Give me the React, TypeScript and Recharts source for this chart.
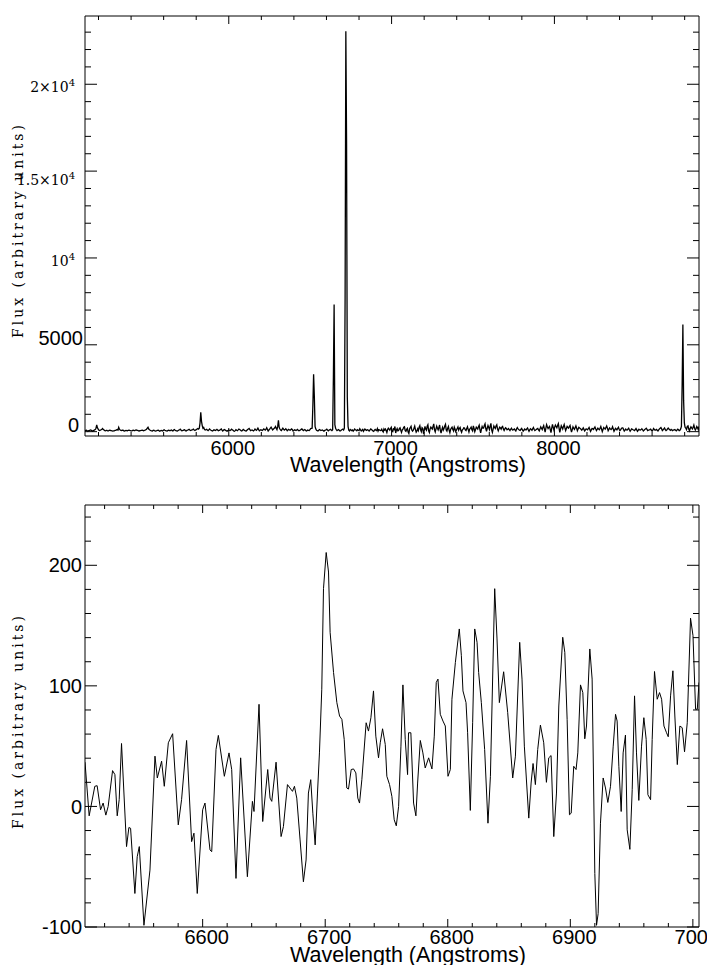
import React from 'react';
import { LineChart, Line, XAxis, YAxis } from 'recharts';

// ---------------- DATA ----------------
// Upper panel: full spectrum, sampled every 4.5 Å starting at 5117 Å
const overviewStart = 5117;
const overviewStep = 4.5;
const overviewFlux = [
  40, 70, 80, 50, 20, 60, 60, 90, 100, 60, 30, 50, 70, 100, 120, 200, 385, 220, 150, 80,
  60, 90, 110, 140, 180, 120, 90, 60, 50, 70, 70, 40, 40, 80, 90, 60, 60, 40, 30, 50,
  50, 70, 80, 100, 120, 90, 250, 140, 100, 70, 60, 80, 80, 50, 40, 60, 70, 60, 50, 80,
  90, 70, 60, 40, 40, 70, 80, 60, 60, 90, 100, 80, 70, 50, 40, 60, 60, 80, 90, 70,
  50, 70, 80, 110, 140, 200, 250, 150, 110, 80, 60, 50, 40, 70, 80, 50, 30, 50, 60, 80,
  90, 50, 20, 50, 70, 60, 40, 80, 110, 80, 60, 40, 30, 60, 80, 70, 50, 80, 100, 60,
  40, 90, 120, 80, 60, 40, 30, 70, 90, 110, 140, 90, 50, 60, 70, 100, 110, 60, 40, 70,
  80, 110, 130, 90, 60, 80, 100, 120, 150, 90, 70, 100, 120, 150, 180, 150, 200, 500, 1115, 600,
  350, 200, 240, 130, 90, 110, 130, 90, 60, 100, 150, 110, 80, 60, 40, 70, 110, 90, 70, 100,
  130, 90, 50, 70, 90, 130, 160, 90, 40, 80, 120, 100, 70, 50, 30, 60, 100, 80, 60, 90,
  140, 110, 80, 40, 20, 60, 110, 80, 60, 100, 150, 120, 90, 60, 40, 80, 130, 100, 70, 40,
  30, 80, 120, 150, 180, 120, 60, 80, 100, 70, 40, 90, 150, 110, 80, 130, 200, 120, 50, 80,
  110, 90, 70, 110, 160, 120, 90, 150, 230, 130, 40, 90, 140, 200, 260, 180, 100, 140, 180, 220,
  300, 200, 120, 300, 650, 250, 150, 90, 60, 130, 200, 140, 90, 120, 170, 110, 50, 90, 130, 100,
  80, 120, 160, 110, 40, 70, 110, 90, 70, 100, 130, 80, 50, 70, 100, 130, 160, 110, 60, 90,
  120, 80, 40, 60, 90, 70, 60, 120, 180, 190, 200, 1500, 3300, 2050, 300, 150, 80, 60, 40, 80,
  120, 90, 60, 80, 100, 60, 30, 60, 90, 110, 140, 90, 50, 80, 110, 140, 100, 60, 110, 3100,
  7320, 400, 200, 120, 60, 90, 120, 80, 40, 60, 90, 120, 150, 100, 200, 7700, 23050, 16600, 2000, 300,
  80, 40, 120, 90, 60, 100, 30, 80, 150, 110, 90, 50, 110, 80, 60, 170, 100, 40, 90, 130,
  20, 90, 150, 110, 70, 100, 110, 50, 40, 100, 160, 120, 80, 40, 20, 90, 130, 80, 60, 180,
  30, 120, 100, 60, 70, 140, 40, -20, 160, 90, 150, 60, -50, 120, 200, 140, 80, 180, 250, 30,
  0, 160, 120, 300, -80, 90, 180, 40, 60, 170, 220, 80, -40, 100, 140, 260, 280, 60, 20, 130,
  190, -20, -100, 150, 240, 310, 90, 30, 90, 200, 320, 120, -30, 40, 160, 60, 260, 350, 110, 0,
  230, 180, -120, 80, 300, 150, 80, 310, 400, 50, -50, 160, 260, 200, 150, 300, 450, 100, -20, 160,
  320, 200, 100, 240, 380, 60, -80, 120, 250, 90, 180, 330, 420, 100, 30, 200, 300, 80, -60, 130,
  200, 260, 120, 40, 260, 150, 0, 90, 180, 270, 90, 190, 240, 60, -40, 100, 150, 220, 210, 100,
  60, 180, 280, 120, -20, 150, 190, 260, 110, 40, 330, 180, 0, 120, 260, 200, 150, 290, 380, 120,
  -70, 130, 300, 200, 200, 350, 450, 180, 20, 200, 350, 240, 120, 320, 480, 100, -40, 150, 330, 240,
  180, 330, 400, 160, 50, 170, 260, 220, 140, 260, 300, 150, 70, 160, 220, 180, 110, 140, 180, 120,
  60, 140, 200, 120, 90, 130, 160, 90, 40, 150, 230, 160, 120, 90, 70, 140, 190, 100, 30, 80,
  150, 120, 100, 160, 210, 110, 20, 100, 170, 130, 80, 160, 240, 140, 60, 90, 130, 160, 190, 100,
  40, 160, 280, 200, 120, 260, 350, 150, -20, 200, 400, 280, 180, 250, 300, 120, -60, 200, 420, 250,
  100, 260, 380, 300, 220, 360, 460, 200, -40, 150, 340, 250, 150, 300, 410, 220, 60, 180, 300, 240,
  200, 300, 360, 150, -30, 120, 280, 200, 130, 230, 330, 200, 50, 150, 250, 210, 180, 140, 90, 150,
  220, 130, 40, 100, 160, 140, 110, 180, 240, 130, 20, 100, 180, 170, 130, 200, 270, 160, 60, 130,
  200, 150, 110, 200, 300, 150, 0, 120, 240, 190, 150, 240, 330, 200, 50, 130, 210, 160, 120, 170,
  280, 150, 20, 100, 190, 150, 100, 180, 250, 140, 60, 110, 170, 220, 220, 130, 40, 90, 150, 100,
  90, 150, 200, 110, 30, 90, 160, 140, 110, 90, 60, 120, 180, 100, 20, 80, 140, 100, 90, 120,
  170, 110, 40, 80, 120, 160, 200, 130, 60, 80, 100, 120, 150, 90, 30, 80, 180, 130, 80, 100,
  130, 80, 40, 100, 160, 200, 240, 160, 60, 100, 160, 210, 110, 60, 90, 160, 210, 150, 110, 80,
  130, 100, 60, 90, 110, 120, 80, 50, 90, 140, 110, 60, 80, 160, 300, 2700, 6170, 1800, 500, 250,
  200, 120, 300, 330, 150, 50, 180, 280, 220, 160, 250, 380, 200, 100, 180, 300, 230, 120, 300,
];

// Lower panel: zoom on 6504–7005 Å
const zoomWavelength = [
  6504.0, 6507.4, 6512.0, 6513.9, 6516.7, 6518.8, 6521.0, 6522.9, 6526.5, 6528.4,
  6530.3, 6531.9, 6533.8, 6537.9, 6539.8, 6541.2, 6544.7, 6546.6, 6548.3, 6552.1,
  6557.0, 6561.1, 6563.0, 6566.5, 6568.7, 6572.0, 6575.5, 6580.1, 6582.8, 6586.9,
  6591.0, 6592.9, 6595.6, 6600.0, 6601.9, 6606.0, 6607.4, 6610.9, 6612.8, 6617.7,
  6621.5, 6623.7, 6627.2, 6631.0, 6636.5, 6640.6, 6641.9, 6646.0, 6649.0, 6653.1,
  6655.0, 6656.4, 6659.9, 6664.0, 6665.9, 6669.2, 6671.9, 6673.3, 6674.9, 6676.8,
  6679.5, 6682.2, 6684.4, 6686.3, 6688.2, 6689.9, 6691.8, 6693.7, 6695.3, 6697.2,
  6698.6, 6700.8, 6702.7, 6704.0, 6706.8, 6709.5, 6711.7, 6713.6, 6715.5, 6717.6,
  6719.0, 6721.2, 6723.1, 6725.0, 6726.6, 6728.0, 6729.9, 6733.4, 6735.3, 6737.3,
  6739.4, 6741.3, 6743.5, 6744.9, 6746.8, 6749.0, 6750.3, 6752.5, 6754.4, 6756.3,
  6758.0, 6759.9, 6761.8, 6763.4, 6765.3, 6767.2, 6768.0, 6769.9, 6772.1, 6774.0,
  6775.4, 6777.6, 6779.7, 6781.6, 6784.4, 6787.1, 6789.0, 6790.6, 6792.0, 6793.9,
  6796.1, 6798.0, 6800.2, 6802.1, 6803.4, 6806.2, 6809.4, 6811.1, 6812.4, 6814.9,
  6816.2, 6818.4, 6820.3, 6822.0, 6823.9, 6825.2, 6827.4, 6830.1, 6832.8, 6834.8,
  6836.1, 6838.3, 6840.2, 6842.1, 6845.6, 6848.9, 6853.0, 6855.2, 6858.7, 6860.6,
  6862.5, 6866.1, 6868.0, 6869.6, 6871.5, 6873.4, 6875.6, 6878.3, 6880.5, 6882.4,
  6884.3, 6886.5, 6888.7, 6890.6, 6893.8, 6895.5, 6897.4, 6899.3, 6900.7, 6902.8,
  6904.7, 6906.1, 6908.3, 6910.2, 6911.8, 6913.2, 6915.9, 6917.8, 6920.0, 6921.4,
  6922.7, 6924.6, 6926.8, 6928.7, 6930.6, 6932.8, 6935.0, 6936.9, 6938.2, 6939.6,
  6941.5, 6943.1, 6945.0, 6946.4, 6948.6, 6950.5, 6952.4, 6954.0, 6955.9, 6958.1,
  6960.0, 6961.9, 6963.3, 6965.5, 6966.8, 6968.7, 6970.9, 6972.8, 6974.5, 6976.4,
  6978.5, 6979.9, 6981.8, 6983.7, 6985.3, 6987.3, 6989.4, 6991.3, 6993.2, 6995.4,
  6998.1, 7000.1, 7002.2, 7003.6, 7005.0,
];
const zoomFlux = [
  36.7, -7.8, 16.7, 17.2, -2.8, 2.8, -7.2, 0, 29.7, 26.4,
  -7.8, 5.6, 52.2, -33.3, -17.5, -18.1, -72.2, -41.7, -33.3, -98.6,
  -52.8, 41.7, 23.6, 37.5, 16.7, 52.8, 60.3, -15.3, 5.6, 54.7,
  -29.2, -22.2, -72.2, -2.8, 2.8, -36.1, -37.5, 47.2, 58.9, 25,
  44.4, 30.6, -59.7, 40.3, -58.3, 4.2, -4.2, 84.7, -12.5, 30.6,
  6.9, 4.2, 36.7, -25, -16.7, 18.1, 14.4, 12.5, 16.7, 6.9,
  -27.8, -62.5, -44.4, 11.1, 22.2, -5.6, -31.9, 11.1, 44.4, 97.2,
  180.6, 210.6, 194.4, 144.4, 111.1, 86.1, 75, 72.2, 55.6, 15.3,
  14.4, 30.6, 31.1, 27.8, 6.9, 2.8, 22.2, 69.4, 62.5, 73.6,
  95.8, 58.3, 40.3, 52.8, 64.4, 51.4, 25, 18.1, 8.3, -11.1,
  -16.1, 0, 50, 100.8, 55.6, 26.4, 61.1, 61.1, 2.8, -7.8,
  19.4, 54.7, 44.4, 31.9, 40.3, 31.1, 58.3, 102.8, 105.6, 76.4,
  70.8, 66.7, 25, 30.6, 88.9, 119.4, 147.2, 125, 95.8, 86.1,
  61.1, -3.3, 69.4, 147.2, 136.1, 111.1, 86.1, 47.2, -13.9, 25,
  83.3, 180.6, 138.9, 86.1, 111.7, 77.8, 23.6, 41.7, 136.1, 105.6,
  50, -9.7, 19.4, 35.6, 18.1, 47.2, 67.5, 52.8, 20, 40.3,
  42.2, -25, 11.1, 83.3, 140.3, 127.8, 72.2, -6.9, -5.6, 33.3,
  30.6, 44.4, 100.8, 94.4, 56.1, 66.7, 130.6, 105.6, -55.6, -98.6,
  -88.9, -13.9, 23.6, 15.3, 3.3, 16.7, 50, 76.4, 70.8, 33.3,
  -4.2, 44.4, 59.2, -19.4, -35.6, 13.9, 91.7, 44.4, 5, 50,
  73.6, 55.6, 9.7, 5.6, 55.6, 111.9, 88.9, 94.4, 88.9, 66.7,
  61.1, 57.8, 91.7, 112.5, 75, 34.7, 66.7, 65.3, 45.3, 69.4,
  156.1, 141.7, 80.6, 80.6, 102.8,
];

// Ticks and labels
const overviewXTicks = [5200, 5400, 5600, 5800, 6000, 6200, 6400, 6600, 6800, 7000, 7200, 7400, 7600, 7800, 8000, 8200, 8400, 8600, 8800];
const overviewXMajor = [6000, 7000, 8000];
const overviewYTicks = [0, 1000, 2000, 3000, 4000, 5000, 6000, 7000, 8000, 9000, 10000, 11000, 12000, 13000, 14000, 15000, 16000, 17000, 18000, 19000, 20000, 21000, 22000, 23000];
const overviewYMajor = [0, 5000, 10000, 15000, 20000];
const overviewYLabels: [string, string][] = [['0', ''], ['5000', ''], ['10', '4'], ['1.5×10', '4'], ['2×10', '4']];

const zoomXTicks = [6520, 6540, 6560, 6580, 6600, 6620, 6640, 6660, 6680, 6700, 6720, 6740, 6760, 6780, 6800, 6820, 6840, 6860, 6880, 6900, 6920, 6940, 6960, 6980, 7000];
const zoomXMajor = [6600, 6700, 6800, 6900, 7000];
const zoomYTicks = [-100, -80, -60, -40, -20, 0, 20, 40, 60, 80, 100, 120, 140, 160, 180, 200, 220, 240];
const zoomYMajor = [-100, 0, 100, 200];

const xTitle = 'Wavelength (Angstroms)';
const yTitle = 'Flux (arbitrary units)';

// ---------------- STYLE ----------------
const SANS = '"Liberation Sans", Arial, Helvetica, sans-serif';
const SERIF = '"DejaVu Serif", serif';
const INK = '#000';

type Frame = { top: number; bottom: number; left: number; right: number };

const overviewData = overviewFlux.map((f, i) => ({ w: overviewStart + i * overviewStep, f }));
const zoomData = zoomWavelength.map((w, i) => ({ w, f: zoomFlux[i] }));

const makeXTick = (frame: Frame, side: 'bottom' | 'top', majors: number[], labelBaseline?: number) =>
  (props: any) => {
    const x = props.x;
    const v = props.payload.value;
    const major = majors.includes(v);
    const len = major ? 8 : 4;
    const y0 = side === 'bottom' ? frame.bottom : frame.top;
    const y1 = side === 'bottom' ? y0 - len : y0 + len;
    return (
      <g>
        <line x1={x} x2={x} y1={y0} y2={y1} stroke={INK} strokeWidth={1} />
        {labelBaseline !== undefined && major ? (
          <text x={x + 4} y={labelBaseline} textAnchor="middle" fontFamily={SANS} fontSize={20} fill={INK}>
            {String(v)}
          </text>
        ) : null}
      </g>
    );
  };

type YLab = { main: string; sup: string; font: 'sans' | 'serif'; endX: number; dy: number };

const makeYTick = (frame: Frame, side: 'left' | 'right', majors: number[], labels?: YLab[]) =>
  (props: any) => {
    const y = props.y;
    const v = props.payload.value;
    const mi = majors.indexOf(v);
    const major = mi >= 0;
    const len = major ? 12 : 6;
    const x0 = side === 'left' ? frame.left : frame.right;
    const x1 = side === 'left' ? x0 + len : x0 - len;
    const lab = labels && major ? labels[mi] : null;
    return (
      <g>
        <line x1={x0} x2={x1} y1={y} y2={y} stroke={INK} strokeWidth={1} />
        {lab ? (
          <text
            x={lab.endX}
            y={y + lab.dy}
            textAnchor="end"
            fontFamily={lab.font === 'sans' ? SANS : SERIF}
            fontSize={lab.font === 'sans' ? 20 : 14}
            fill={INK}
          >
            <tspan>{lab.main}</tspan>
            {lab.sup ? (
              <tspan dy={-6} fontSize={10}>
                {lab.sup}
              </tspan>
            ) : null}
          </text>
        ) : null}
      </g>
    );
  };

const overviewLabelStyle = [
  { font: 'sans', endX: 79, dy: 0 },
  { font: 'sans', endX: 83, dy: 0 },
  { font: 'serif', endX: 75, dy: 8.5 },
  { font: 'serif', endX: 75, dy: 14 },
  { font: 'serif', endX: 75, dy: 7.5 },
] as const;
const overviewYLab: YLab[] = overviewYLabels.map(([main, sup], i) => ({ main, sup, ...overviewLabelStyle[i] }));
const zoomYLab: YLab[] = zoomYMajor.map((v) => ({ main: String(v), sup: '', font: 'sans', endX: 82, dy: 7.2 }));

const XTitle = (baseline: number) => () => (
  <text x={408} y={baseline} textAnchor="middle" fontFamily={SANS} fontSize={21.5} fill={INK}>
    {xTitle}
  </text>
);
const YTitle = (cy: number) => () => (
  <text
    x={17.5}
    y={cy}
    transform={`rotate(-90, 17.5, ${cy})`}
    textAnchor="middle"
    dominantBaseline="central"
    fontFamily={SERIF}
    fontSize={14}
    letterSpacing={3}
    fill={INK}
  >
    {yTitle}
  </text>
);

const topFrame: Frame = { top: 16, bottom: 436, left: 85, right: 699 };
const botFrame: Frame = { top: 25, bottom: 447, left: 85, right: 699 };

export default function App() {
  return (
    <div style={{ position: 'absolute', left: 0, top: 0, width: 707, height: 965, background: '#fff', overflow: 'hidden' }}>
      <div style={{ position: 'absolute', left: 0, top: 0 }}>
        <LineChart width={707} height={480} data={overviewData} margin={{ top: 15, right: 7, bottom: 0, left: 0 }}>
          <XAxis
            xAxisId="b"
            dataKey="w"
            type="number"
            domain={[5117, 8888]}
            allowDataOverflow
            ticks={overviewXTicks}
            interval={0}
            height={44}
            tickLine={false}
            axisLine={{ stroke: INK, strokeWidth: 1 }}
            tick={makeXTick(topFrame, 'bottom', overviewXMajor, 455)}
            label={{ content: XTitle(471.5) }}
          />
          <XAxis
            xAxisId="t"
            orientation="top"
            dataKey="w"
            type="number"
            domain={[5117, 8888]}
            allowDataOverflow
            ticks={overviewXTicks}
            interval={0}
            height={1}
            tickLine={false}
            axisLine={{ stroke: INK, strokeWidth: 1 }}
            tick={makeXTick(topFrame, 'top', overviewXMajor)}
          />
          <YAxis
            yAxisId="l"
            type="number"
            domain={[-250, 23930]}
            allowDataOverflow
            ticks={overviewYTicks}
            interval={0}
            width={85}
            tickLine={false}
            axisLine={{ stroke: INK, strokeWidth: 1 }}
            tick={makeYTick(topFrame, 'left', overviewYMajor, overviewYLab)}
            label={{ content: YTitle(230) }}
          />
          <YAxis
            yAxisId="r"
            orientation="right"
            type="number"
            domain={[-250, 23930]}
            allowDataOverflow
            ticks={overviewYTicks}
            interval={0}
            width={1}
            tickLine={false}
            axisLine={{ stroke: INK, strokeWidth: 1 }}
            tick={makeYTick(topFrame, 'right', overviewYMajor)}
          />
          <Line
            xAxisId="b"
            yAxisId="l"
            type="linear"
            dataKey="f"
            stroke={INK}
            strokeWidth={1.3}
            dot={false}
            activeDot={false}
            isAnimationActive={false}
          />
        </LineChart>
      </div>
      <div style={{ position: 'absolute', left: 0, top: 480 }}>
        <LineChart width={707} height={485} data={zoomData} margin={{ top: 24, right: 7, bottom: 0, left: 0 }}>
          <XAxis
            xAxisId="b"
            dataKey="w"
            type="number"
            domain={[6504, 7005]}
            allowDataOverflow
            ticks={zoomXTicks}
            interval={0}
            height={38}
            tickLine={false}
            axisLine={{ stroke: INK, strokeWidth: 1 }}
            tick={makeXTick(botFrame, 'bottom', zoomXMajor, 463.5)}
            label={{ content: XTitle(482) }}
          />
          <XAxis
            xAxisId="t"
            orientation="top"
            dataKey="w"
            type="number"
            domain={[6504, 7005]}
            allowDataOverflow
            ticks={zoomXTicks}
            interval={0}
            height={1}
            tickLine={false}
            axisLine={{ stroke: INK, strokeWidth: 1 }}
            tick={makeXTick(botFrame, 'top', zoomXMajor)}
          />
          <YAxis
            yAxisId="l"
            type="number"
            domain={[-100, 250]}
            allowDataOverflow
            ticks={zoomYTicks}
            interval={0}
            width={85}
            tickLine={false}
            axisLine={{ stroke: INK, strokeWidth: 1 }}
            tick={makeYTick(botFrame, 'left', zoomYMajor, zoomYLab)}
            label={{ content: YTitle(241) }}
          />
          <YAxis
            yAxisId="r"
            orientation="right"
            type="number"
            domain={[-100, 250]}
            allowDataOverflow
            ticks={zoomYTicks}
            interval={0}
            width={1}
            tickLine={false}
            axisLine={{ stroke: INK, strokeWidth: 1 }}
            tick={makeYTick(botFrame, 'right', zoomYMajor)}
          />
          <Line
            xAxisId="b"
            yAxisId="l"
            type="linear"
            dataKey="f"
            stroke={INK}
            strokeWidth={1}
            dot={false}
            activeDot={false}
            isAnimationActive={false}
          />
        </LineChart>
      </div>
    </div>
  );
}
